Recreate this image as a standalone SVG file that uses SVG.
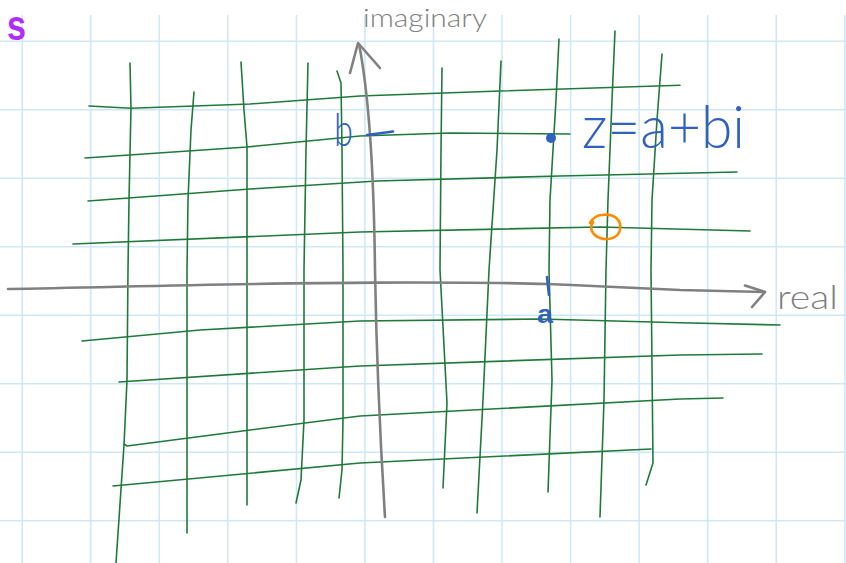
<svg xmlns="http://www.w3.org/2000/svg" width="846" height="563" viewBox="0 0 846 563">
<style>
.grid{stroke:#cfe8f8;stroke-width:1.6;fill:none}
.g{stroke:#1f7a3a;stroke-width:1.6;fill:none;stroke-linecap:round;stroke-linejoin:round}
.ax{stroke:#808080;stroke-width:2.6;fill:none;stroke-linecap:round;stroke-linejoin:round}
.hand{font-family:Lato,"Liberation Sans",Arial,sans-serif;font-weight:300}
.blue{fill:#2f62c0}
.gray{fill:#808080}
.bstroke{stroke:#2f62c0;stroke-width:2.6;stroke-linecap:round;fill:none}
</style>
<rect width="846" height="563" fill="#ffffff"/>
<g id="paper">
<path class="grid" d="M22.2,15V563M90.7,15V563M159.3,15V563M227.8,15V563M296.4,15V563M364.9,15V563M433.5,15V563M502,15V563M570.6,15V563M639.1,15V563M707.7,15V563M776.2,15V563M844.8,15V563"/>
<path class="grid" d="M0,41.3H846M0,109.8H846M0,178.3H846M0,246.8H846M0,315.3H846M0,383.8H846M0,452.3H846M0,520.8H846"/>
</g>
<g id="title">
<text x="7" y="40" font-family="Liberation Sans,Arial,sans-serif" font-weight="bold" font-size="42" fill="#b02cff" textLength="19" lengthAdjust="spacingAndGlyphs">s</text>
</g>
<g id="grid-lines">
<polyline class="g" points="130,63 131,108 129,200 128,270 127,380 124,445 116,563"/>
<polyline class="g" points="194,92 191,130 188,200 187,270 187,400 187,533"/>
<polyline class="g" points="241,62 244,110 247,147 247,270 247,400 247,505"/>
<polyline class="g" points="308,63 306,150 304,270 304,420 301,480 296,503"/>
<polyline class="g" points="337,71 341,83 342,150 343,270 343,420 342,470 339,498"/>
<polyline class="g" points="442,68 441,150 440,270 447,403 443,488"/>
<polyline class="g" points="501,61 497,150 489,270 483,400 477,513"/>
<polyline class="g" points="559,39 556,100 550,200 549,270 552,380 548,492"/>
<polyline class="g" points="615,31 612,100 608,200 606,270 604,400 600,517"/>
<polyline class="g" points="662,54 657,120 652,200 651,270 653,463 646,485"/>
<polyline class="g" points="89,106 131,108.3 250,104 360,96 500,91 680,85.3"/>
<polyline class="g" points="85,158 247,147 360,136 450,133 570,134"/>
<polyline class="g" points="88,201 250,189 377,181 560,176 737,172"/>
<polyline class="g" points="73,244 360,232 600,227 750,231"/>
<polyline class="g" points="82,341 200,330 360,321 540,319 680,322.7 780,325"/>
<polyline class="g" points="119,382 360,366 680,355 762,354"/>
<polyline class="g" points="124,444 127,446 250,430 360,416 680,399 723,398"/>
<polyline class="g" points="113,486 360,463 651,449"/>
</g>
<g id="connectors">
<path id="real-axis" class="ax" d="M8,289 C120,287 250,283 377,282.6 C460,282.4 520,283 547,284 C600,286 660,289 680,290 L765,292"/>
<path id="real-arrow" class="ax" d="M745,285.5 L765,292 L752,307"/>
<path id="imag-axis" class="ax" d="M385,517 C379,420 376,330 375,270 C374,180 370,100 359,44"/>
<path id="imag-arrow" class="ax" d="M350,73 L358,43 L380,68"/>
</g>
<g id="imag-label">
<text class="hand gray" x="363" y="27" font-size="25" textLength="124" lengthAdjust="spacingAndGlyphs">imaginary</text>
</g>
<g id="real-label">
<text class="hand gray" x="777" y="309" font-size="34" textLength="61" lengthAdjust="spacingAndGlyphs">real</text>
</g>
<g id="b-label">
<text class="hand blue" x="334" y="146" font-size="45" textLength="19" lengthAdjust="spacingAndGlyphs">b</text>
<path class="bstroke" d="M367,135 L393,131.5"/>
</g>
<g id="z-point">
<circle cx="551" cy="138" r="5" fill="#2f62c0"/>
<text class="hand blue" x="582" y="148" font-size="60" textLength="163" lengthAdjust="spacingAndGlyphs">z=a+bi</text>
</g>
<g id="a-label">
<path class="bstroke" d="M547,277 L549,295"/>
<text x="537" y="323" font-family="Liberation Sans,Arial,sans-serif" font-size="26" font-weight="bold" fill="#2f62c0" textLength="16" lengthAdjust="spacingAndGlyphs">a</text>
</g>
<g id="orange-circle">
<path d="M590,223 C593,218 597,215 602,215 C614,213 622,220 620,230 C618,238 608,241 600,238 C592,235 589,228 593,222" stroke="#ff8a00" stroke-width="2.6" fill="none" stroke-linecap="round"/>
</g>
</svg>
